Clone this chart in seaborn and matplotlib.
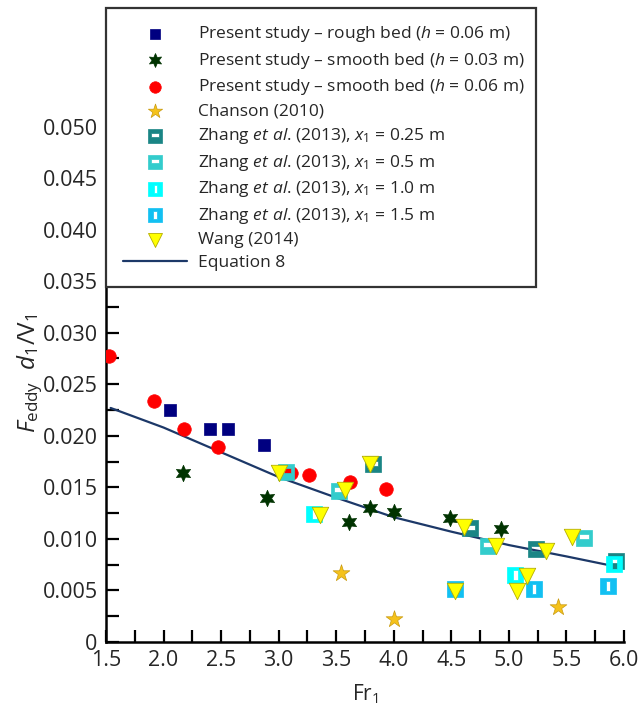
import matplotlib
matplotlib.use("Agg")
import matplotlib.pyplot as plt
from matplotlib.path import Path
from matplotlib.ticker import MultipleLocator, FixedLocator
import seaborn as sns

# values (Fr1 vs F_eddy d1/V1)
rough_fr = [2.06, 2.40, 2.56, 2.87]
rough_f = [0.0225, 0.0207, 0.0207, 0.0191]

smooth03_fr = [2.17, 2.90, 3.61, 3.79, 4.00, 4.49, 4.93]
smooth03_f = [0.0164, 0.0140, 0.0116, 0.0130, 0.0126, 0.0120, 0.0110]

smooth06_fr = [1.53, 1.92, 2.18, 2.47, 3.11, 3.26, 3.62, 3.93]
smooth06_f = [0.0277, 0.0234, 0.0207, 0.0189, 0.0164, 0.0162, 0.0155, 0.0148]

chanson_fr = [3.54, 4.00, 5.43]
chanson_f = [0.0067, 0.0022, 0.0034]

zhang025_fr = [3.82, 4.66, 5.24, 5.93]
zhang025_f = [0.0173, 0.0111, 0.0090, 0.0079]

zhang05_fr = [3.06, 3.52, 4.82, 5.65]
zhang05_f = [0.0165, 0.0146, 0.0093, 0.0101]

zhang10_fr = [3.31, 5.05, 5.91]
zhang10_f = [0.0124, 0.0065, 0.0076]

zhang15_fr = [4.53, 5.22, 5.86]
zhang15_f = [0.0051, 0.0051, 0.0054]

wang_fr = [3.00, 3.36, 3.58, 3.79, 4.61, 4.89, 5.07, 5.16, 5.32, 5.55, 4.53]
wang_f = [0.0164, 0.0123, 0.0147, 0.0173, 0.0112, 0.0093, 0.0049, 0.0064, 0.0088, 0.0102, 0.0049]

eq8_fr = [1.54, 2.0, 2.5, 3.0, 3.5, 4.0, 4.5, 5.0, 5.5, 5.98]
eq8_f = [0.0227, 0.0208, 0.0184, 0.0160, 0.0140, 0.0121, 0.0107, 0.0094, 0.0083, 0.0072]


def boxed(x0, x1, y0, y1):
    # square marker with a white window cut into it
    verts = [(-0.5, -0.5), (0.5, -0.5), (0.5, 0.5), (-0.5, 0.5), (-0.5, -0.5),
             (x0, y0), (x0, y1), (x1, y1), (x1, y0), (x0, y0)]
    codes = ([Path.MOVETO] + [Path.LINETO] * 3 + [Path.CLOSEPOLY]) * 2
    return Path(verts, codes)


sns.set_style("ticks")
plt.rcParams['font.family'] = ['Open Sans', 'DejaVu Sans']
plt.rcParams['mathtext.fontset'] = 'custom'
plt.rcParams['mathtext.rm'] = 'Open Sans'
plt.rcParams['mathtext.it'] = 'Open Sans:italic'

fig = plt.figure(figsize=(6.41, 7.06), dpi=100)
ax = fig.add_axes([0.1654, 0.0907, 0.808, 0.898])

sns.lineplot(x=eq8_fr, y=eq8_f, color='#1c3868', lw=1.6, ax=ax, label='Equation 8', zorder=2)

sns.scatterplot(x=rough_fr, y=rough_f, marker='s', s=80, color='#000080', edgecolor='#000080',
                linewidth=0.5, ax=ax, label='Present study – rough bed ($h$ = 0.06 m)', zorder=3)
sns.scatterplot(x=smooth03_fr, y=smooth03_f, marker=(6, 1, 0), s=140, color='#003300',
                edgecolor='#003300', linewidth=0.5, ax=ax,
                label='Present study – smooth bed ($h$ = 0.03 m)', zorder=3)
sns.scatterplot(x=smooth06_fr, y=smooth06_f, marker='o', s=95, color='#ff0000', edgecolor='#ff0000',
                linewidth=0.5, ax=ax, label='Present study – smooth bed ($h$ = 0.06 m)', zorder=3)
sns.scatterplot(x=chanson_fr, y=chanson_f, marker='*', s=160, color='#f5c21b', edgecolor='#c89a10',
                linewidth=0.5, ax=ax, label='Chanson (2010)', zorder=3)
sns.scatterplot(x=zhang025_fr, y=zhang025_f, marker=boxed(-0.3, 0.3, -0.1, 0.2), s=130,
                color='#1a8585', edgecolor='#1a8585', linewidth=0.5, ax=ax,
                label='Zhang $et\\ al$. (2013), $x_1$ = 0.25 m', zorder=4)
sns.scatterplot(x=zhang05_fr, y=zhang05_f, marker=boxed(-0.3, 0.3, -0.05, 0.25), s=130,
                color='#33cccc', edgecolor='#33cccc', linewidth=0.5, ax=ax,
                label='Zhang $et\\ al$. (2013), $x_1$ = 0.5 m', zorder=4)
sns.scatterplot(x=zhang10_fr, y=zhang10_f, marker=boxed(-0.1, 0.18, -0.3, 0.3), s=130,
                color='#00ffff', edgecolor='#00ffff', linewidth=0.5, ax=ax,
                label='Zhang $et\\ al$. (2013), $x_1$ = 1.0 m', zorder=4)
sns.scatterplot(x=zhang15_fr, y=zhang15_f, marker=boxed(-0.15, 0.12, -0.3, 0.3), s=130,
                color='#12c0f2', edgecolor='#12c0f2', linewidth=0.5, ax=ax,
                label='Zhang $et\\ al$. (2013), $x_1$ = 1.5 m', zorder=4)
sns.scatterplot(x=wang_fr, y=wang_f, marker='v', s=140, color='#ffff00', edgecolor='#b5ad00',
                linewidth=0.6, ax=ax, label='Wang (2014)', zorder=5)

ax.set_xlim(1.5, 6.0)
ax.set_ylim(0, 0.0615)
ax.xaxis.set_major_locator(MultipleLocator(0.5))
ax.xaxis.set_minor_locator(MultipleLocator(0.25))
ax.yaxis.set_major_locator(FixedLocator([0, 0.005, 0.01, 0.015, 0.02, 0.025,
                                         0.03, 0.035, 0.04, 0.045, 0.05]))
ax.yaxis.set_minor_locator(MultipleLocator(0.0025))
ax.set_yticklabels(['0', '0.005', '0.010', '0.015', '0.020', '0.025',
                    '0.030', '0.035', '0.040', '0.045', '0.050'])
ax.set_xticks([1.5, 2.0, 2.5, 3.0, 3.5, 4.0, 4.5, 5.0, 5.5, 6.0])
ax.set_xticklabels(['1.5', '2.0', '2.5', '3.0', '3.5', '4.0', '4.5', '5.0', '5.5', '6.0'])
ax.tick_params(which='both', direction='in', length=9, width=1.6, color='black',
               labelsize=15.5, pad=6)
for side in ['top', 'right']:
    ax.spines[side].set_visible(False)
for side in ['left', 'bottom']:
    ax.spines[side].set_linewidth(1.8)
    ax.spines[side].set_color('black')

ax.set_xlabel('$\\mathrm{Fr}_1$', fontsize=15)
ax.set_ylabel('$F_{\\mathrm{eddy}}$  $d_1$/V$_1$', fontsize=17.5)
ax.yaxis.set_label_coords(-0.118, 0.424)
ax.xaxis.set_label_coords(0.5, -0.063)

handles, labels = ax.get_legend_handles_labels()
handles = handles[1:] + handles[:1]
labels = labels[1:] + labels[:1]
leg = ax.legend(handles, labels, loc='upper left', bbox_to_anchor=(0, 1.0, 0.83, 0),
                mode='expand', borderaxespad=0, fancybox=False, framealpha=1,
                edgecolor='#333333', fontsize=12.5, handlelength=3.7, handletextpad=0.63,
                labelspacing=0.37, borderpad=0.95, markerscale=0.85)
leg.get_frame().set_linewidth(1.6)
leg.set_zorder(10)

fig.savefig('out.png', dpi=100)
